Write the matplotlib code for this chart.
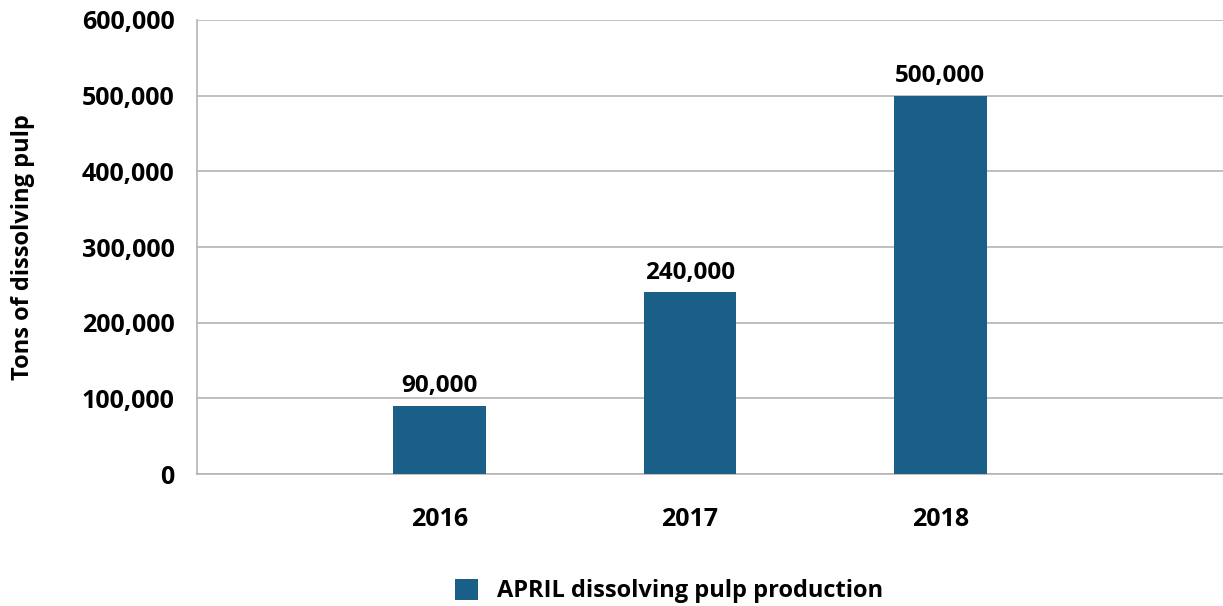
import matplotlib
matplotlib.use("Agg")
from matplotlib import pyplot as plt
from matplotlib.ticker import FuncFormatter

# data
years = ["2016", "2017", "2018"]
production = [90000, 240000, 500000]
series_name = "APRIL dissolving pulp production"

bar_color = "#1a5f88"
grid_color = "#b4b4b4"

plt.rcParams["font.family"] = ["Open Sans", "DejaVu Sans"]
plt.rcParams["font.weight"] = "bold"

fig = plt.figure(figsize=(12.23, 6.06), dpi=100)
ax = fig.add_axes([197 / 1223, 1 - 474 / 606, (1223 - 197) / 1223, (474 - 20) / 606])

x = list(range(len(years)))
bars = ax.bar(x, production, width=0.37, color=bar_color, label=series_name, zorder=3)

for xi, v in zip(x, production):
    ax.text(xi, v + 10000, f"{v:,}", ha="center", va="bottom", fontsize=17.5, fontweight="bold")

ax.set_ylim(0, 600000)
ax.set_xlim(-0.97, 3.13)
ax.set_yticks(range(0, 600001, 100000))
ax.yaxis.set_major_formatter(FuncFormatter(lambda v, p: f"{int(v):,}"))
ax.set_xticks(x)
ax.set_xticklabels(years)
ax.tick_params(axis="both", length=0, labelsize=18)
ax.tick_params(axis="y", pad=16)
ax.tick_params(axis="x", pad=24)
ax.grid(axis="y", color=grid_color, linewidth=1.2, zorder=0)

for s in ["top", "right"]:
    ax.spines[s].set_visible(False)
for s in ["left", "bottom"]:
    ax.spines[s].set_color(grid_color)
    ax.spines[s].set_linewidth(1.2)

ax.set_ylabel("Tons of dissolving pulp", fontsize=17, fontweight="bold")
ax.yaxis.set_label_coords(-162 / 1026, 0.5)

ax.legend(loc="center", bbox_to_anchor=(0.547, 1 - 591 / 606), bbox_transform=fig.transFigure,
          frameon=False, fontsize=17, handlelength=1.0, handleheight=1.0, handletextpad=0.8)

plt.savefig("out.png", dpi=100)
